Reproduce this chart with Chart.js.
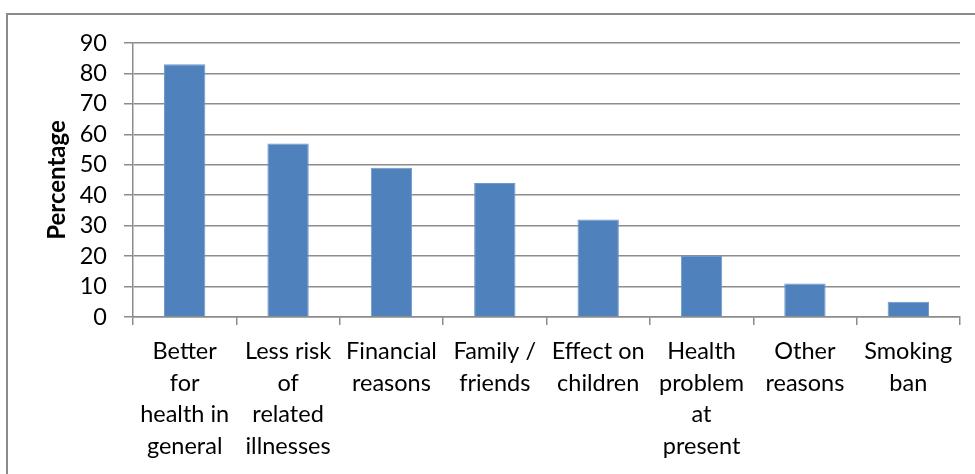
<!DOCTYPE html>
<html>
<head>
<meta charset="utf-8">
<script src="https://cdn.jsdelivr.net/npm/chart.js@4"></script>
<style>
    body { margin: 0; background: #fff; overflow: hidden; }
    #wrap { position: relative; width: 975px; height: 474px; }
    #frame {
        position: absolute; left: 6px; top: 13px; width: 1000px; height: 500px;
        border-top: 2px solid #8a8a8a; border-left: 2px solid #8a8a8a;
    }
    #quit-chart { position: absolute; left: 0; top: 0; }
</style>
</head>
<body>
<div id="wrap">
    <div id="frame"></div>
    <canvas id="quit-chart" width="975" height="474"></canvas>
</div>
<script>
// reasons for quitting
const reasons = [
    ["Better", "for", "health in", "general"],
    ["Less risk", "of", "related", "illnesses"],
    ["Financial", "reasons"],
    ["Family /", "friends"],
    ["Effect on", "children"],
    ["Health", "problem", "at", "present"],
    ["Other", "reasons"],
    ["Smoking", "ban"]
];
const percentages = [83, 57, 49, 44, 32, 20, 11, 5];
const yMax = 90;
const yStep = 10;
const axisTitle = "Percentage";

const gridColor = '#8c8c8c';
const fontFamily = "Lato, 'Open Sans', sans-serif";

const ctx = document.getElementById('quit-chart');

new Chart(ctx, {
    type: 'bar',
    data: {
        labels: reasons,
        datasets: [{
            label: axisTitle,
            data: percentages,
            backgroundColor: '#4f81bd',
            borderColor: '#6e98cc',
            borderWidth: 1,
            barPercentage: 0.4,
            categoryPercentage: 1
        }]
    },
    options: {
        responsive: false,
        animation: false,
        layout: {
            padding: { left: 0, right: 15, top: 43, bottom: 0 }
        },
        plugins: {
            legend: { display: false },
            tooltip: { enabled: false }
        },
        scales: {
            x: {
                grid: {
                    display: true,
                    drawOnChartArea: false,
                    drawTicks: true,
                    tickLength: 8,
                    color: gridColor,
                    lineWidth: 1.5
                },
                border: { color: gridColor, width: 1.5 },
                ticks: {
                    color: '#000',
                    maxRotation: 0,
                    autoSkip: false,
                    padding: 11,
                    font: { family: fontFamily, size: 23.5, lineHeight: 1.34 }
                },
                afterFit: function (scale) {
                    scale.height = 157;
                }
            },
            y: {
                min: 0,
                max: yMax,
                ticks: {
                    stepSize: yStep,
                    autoSkip: false,
                    color: '#000',
                    padding: 17,
                    font: { family: fontFamily, size: 23.5, lineHeight: 1 }
                },
                grid: {
                    color: gridColor,
                    lineWidth: 1.5,
                    tickLength: 9
                },
                border: { color: gridColor, width: 1.5 },
                title: {
                    display: true,
                    text: axisTitle,
                    color: '#000',
                    padding: { top: 43, bottom: 0 },
                    font: { family: fontFamily, size: 24, weight: 'bold' }
                },
                afterFit: function (scale) {
                    scale.width = 133;
                }
            }
        }
    }
});
</script>
</body>
</html>
